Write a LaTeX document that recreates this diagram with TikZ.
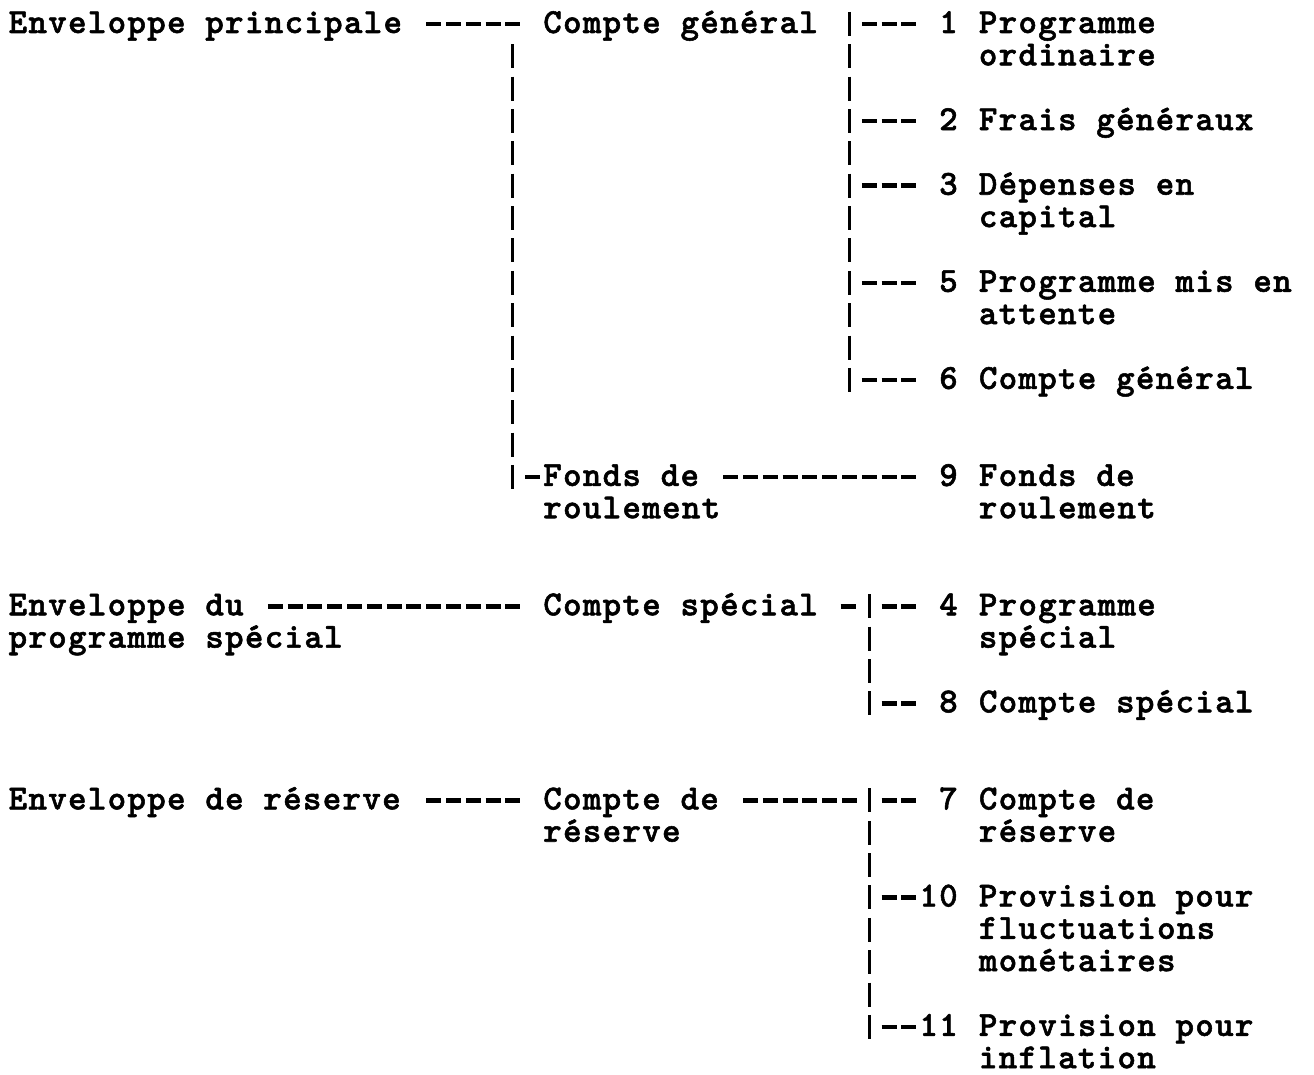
\documentclass[tikz,border=0pt]{standalone}
\usepackage{fontspec}
\setmonofont{lmmonolt10-bold.otf}[LetterSpace=3.84,FakeBold=1.5]
\usetikzlibrary{positioning}
\newcommand{\stacked}[1]{\begin{tabular}[t]{@{}l@{}}#1\end{tabular}}
\tikzset{%
	entry/.style={
		font=\ttfamily\fontsize{10pt}{9.2pt}\selectfont,
		inner sep=0pt,
		anchor=base west
	},
	number/.style={
		entry,
		anchor=base east
	},
	hyphens/.style={
		line width=0.045cm,
		dash pattern=on 0.15cm off 0.048cm
	},
	pipes/.style={
		line width=0.03cm,
		dash pattern=on 0.24cm off 0.0835cm
	},
}

\begin{document}
\begin{tikzpicture}
	\useasboundingbox (0,0) rectangle (13.14,-10.74);
	% Enveloppe principale
	\node[entry] (envprin) at (0.08,-0.33) {Enveloppe principale};
	\node[entry] (cptgen) at (5.426,-0.33) {Compte général};
	\node[entry] (fonds) at (5.426,-4.859) {\stacked{Fonds de\\roulement}};
	% Rubriques du compte general
	\node[number] (num1) at (9.584,-0.33) {1};
	\node[number] (num2) at (9.584,-1.3005) {2};
	\node[number] (num3) at (9.584,-1.9475) {3};
	\node[number] (num5) at (9.584,-2.918) {5};
	\node[number] (num6) at (9.584,-3.8885) {6};
	\node[number] (num9) at (9.584,-4.859) {9};
	\node[entry, base right=0.198cm of num1] (prog1) {\stacked{Programme\\ordinaire}};
	\node[entry, base right=0.198cm of num2] (frais2) {Frais généraux};
	\node[entry, base right=0.198cm of num3] (dep3) {\stacked{Dépenses en\\capital}};
	\node[entry, base right=0.198cm of num5] (prog5) {\stacked{Programme mis en\\attente}};
	\node[entry, base right=0.198cm of num6] (cpt6) {Compte général};
	\node[entry, base right=0.198cm of num9] (fonds9) {\stacked{Fonds de\\roulement}};
	% Enveloppe du programme special
	\node[entry] (envspe) at (0.08,-6.153) {\stacked{Enveloppe du\\programme spécial}};
	\node[entry] (cptspe) at (5.426,-6.153) {Compte spécial};
	\node[number] (num4) at (9.584,-6.153) {4};
	\node[number] (num8) at (9.584,-7.1235) {8};
	\node[entry, base right=0.198cm of num4] (prog4) {\stacked{Programme\\spécial}};
	\node[entry, base right=0.198cm of num8] (cpt8) {Compte spécial};
	% Enveloppe de reserve
	\node[entry] (envres) at (0.08,-8.094) {Enveloppe de réserve};
	\node[entry] (cptres) at (5.426,-8.094) {\stacked{Compte de\\réserve}};
	\node[number] (num7) at (9.584,-8.094) {7};
	\node[number] (num10) at (9.584,-9.0645) {10};
	\node[number] (num11) at (9.584,-10.3585) {11};
	\node[entry, base right=0.198cm of num7] (cpt7) {\stacked{Compte de\\réserve}};
	\node[entry, base right=0.198cm of num10] (prov10) {\stacked{Provision pour\\fluctuations\\monétaires}};
	\node[entry, base right=0.198cm of num11] (prov11) {\stacked{Provision pour\\inflation}};
	% Barres verticales
	\coordinate (gen-top) at (5.129,-0.4435);
	\coordinate (gen-bot) at (5.129,-4.889);
	\coordinate (rub-top) at (8.495,-0.12);
	\coordinate (rub-bot) at (8.495,-3.9185);
	\coordinate (spe-top) at (8.693,-5.943);
	\coordinate (spe-bot) at (8.693,-7.1535);
	\coordinate (res-top) at (8.693,-7.884);
	\coordinate (res-bot) at (8.693,-10.3885);
	\draw[pipes] (gen-top) -- (gen-bot);
	\draw[pipes] (rub-top) -- (rub-bot);
	\draw[pipes] (spe-top) -- (spe-bot);
	\draw[pipes] (res-top) -- (res-bot);
	% Tirets
	\draw[hyphens] ([xshift=-11.64mm,yshift=.9mm]cptgen.base west) -- ([xshift=-2.22mm,yshift=.9mm]cptgen.base west);
	\draw[hyphens] ([xshift=-27.48mm,yshift=.9mm]cptspe.base west) -- ([xshift=-2.22mm,yshift=.9mm]cptspe.base west);
	\draw[hyphens] ([xshift=-11.64mm,yshift=.9mm]cptres.base west) -- ([xshift=-2.22mm,yshift=.9mm]cptres.base west);
	\draw[hyphens] ([xshift=-1.74mm,yshift=.9mm]fonds.base west) -- ([xshift=-0.24mm,yshift=.9mm]fonds.base west);
	\draw[hyphens] ([xshift=-23.52mm,yshift=.9mm]num9.base east) -- ([xshift=-4.2mm,yshift=.9mm]num9.base east);
	\draw[hyphens] ([xshift=2.22mm,yshift=.9mm]cptspe.base east) -- ([xshift=3.72mm,yshift=.9mm]cptspe.base east);
	\draw[hyphens] ([xshift=-21.54mm,yshift=.9mm]num7.base east) -- ([xshift=-10.14mm,yshift=.9mm]num7.base east);
	\foreach \n in {num1,num2,num3,num5,num6}
	{
		\draw[hyphens] ([xshift=-9.66mm,yshift=.9mm]\n.base east) -- ([xshift=-4.2mm,yshift=.9mm]\n.base east);
	}
	\foreach \n in {num4,num8,num7,num10,num11}
	{
		\draw[hyphens] ([xshift=-7.68mm,yshift=.9mm]\n.base east) -- ([xshift=-4.2mm,yshift=.9mm]\n.base east);
	}
\end{tikzpicture}
\end{document}
